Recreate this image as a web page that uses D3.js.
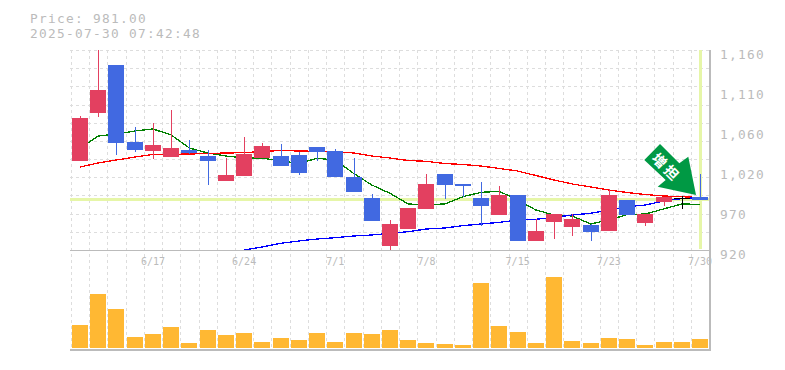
<!DOCTYPE html>
<html>
<head>
<meta charset="utf-8">
<script src="https://cdn.jsdelivr.net/npm/d3@7"></script>
<style>
html,body{margin:0;padding:0;background:#fff;overflow:hidden}
svg{display:block}
text{font-family:"DejaVu Sans Mono","Liberation Mono",monospace;fill:#bbb}
.domain{display:none}
</style>
</head>
<body>
<div id="chart"></div>
<script>
//------------------------------------------------------------------
// data
//------------------------------------------------------------------
var dates = ['6/11','6/12','6/13','6/16','6/17','6/18','6/19','6/20','6/23','6/24','6/25','6/26','6/27','6/30','7/1','7/2','7/3','7/4','7/7','7/8','7/9','7/10','7/11','7/14','7/15','7/16','7/17','7/18','7/22','7/23','7/24','7/25','7/28','7/29','7/30'];

var opens  = [1026.8,1084.4,1142,1049.6,1038.8,1031.6,1040,1032.8,1002.8,1008.8,1030.4,1032.8,1034,1043.6,1038.8,1007.6,982.4,924.8,945.2,969.2,1011.2,999.2,982.4,962,986,930.8,953.6,947.6,950,942.8,980,952.4,977.6,983,983.6];
var highs  = [1080.8,1175,1142,1067.6,1072.4,1088,1052,1040,1030.4,1055.6,1048.4,1047.2,1037.6,1043.6,1041.2,1030.4,987.2,956,970.4,1011.2,1011.2,999.2,1001.6,996.8,986,957.2,963.2,963.2,951.2,993.2,980,963.2,983.6,984.8,1011.2];
var lows   = [1026.8,1079.6,1034,1037.6,1029.2,1031.6,1035.2,998,1002.8,1008.8,1030.4,1020.8,1010,1026.8,1007.6,989.6,954.8,918.8,945.2,969.2,981.2,983.6,948.8,962,930.8,930.8,933.2,936.8,930.8,942.8,962,948.8,972.8,969.2,980];
var closes = [1078.4,1112,1048.4,1040,1046,1042.4,1036.4,1026.8,1010,1035.2,1044.8,1020.8,1012.4,1037.6,1007.6,989.6,954.8,951.2,970.4,999.2,998,996.8,972.8,986,930.8,942.8,963.2,957.2,941.6,986,962,963.2,983.6,983,980];
var volumes = [23000,54000,39000,11000,14000,21000,5000,18000,13000,15000,6000,10000,8000,15000,6000,15000,14000,18000,8000,5000,4000,3000,65000,22000,16000,5000,71000,7000,5000,10000,9000,3000,6000,6000,9000];

var ma5  = [1042.4,1056.8,1059.2,1062.8,1065.2,1058,1042.4,1036.4,1032.8,1030.4,1030.4,1026.8,1024,1030,1028,1012,998,988,975.2,974.4,975.2,984,989.2,990.4,980,968,962,960.8,951.2,956,962.4,963.2,969.2,975.2,974.8];
var ma25 = [1019.6,1024.4,1028,1031.6,1034.6,1034.8,1035.2,1035.8,1036.4,1036.8,1038.2,1039.4,1038.8,1038.4,1038.2,1036.4,1032.8,1030.4,1027.4,1026.4,1023.8,1022.6,1020.8,1017.8,1014.8,1009.4,1004,999.2,995.6,992,989,986.6,984.8,983.96,983];
var ma75 = [null,null,null,null,null,null,null,null,null,920,923.6,928,930.8,933.2,934.8,936.8,938,940,942,945.2,946.4,949.2,951.2,953.2,956,956.8,959.2,962,964,968,972,974,978.8,981.6,983];

var priceDomain = [920,1160];
var priceTicks = [1160,1112,1064,1016,968,920];
var priceTickLabels = ['1,160','1,110','1,060','1,020','970','920'];
var dateTicks = ['6/17','6/24','7/1','7/8','7/15','7/23','7/30'];
var lastPrice = 981;
var gridRows = 11;
var title = ['Price: 981.00','2025-07-30 07:42:48'];
var arrowLabel = ['増','担'];

//------------------------------------------------------------------
// layout
//------------------------------------------------------------------
var W = 785, H = 370,
		left = 70, right = 710,
		top_ = 50, priceBottom = 250, volBottom = 348, bottom = 350;

var clrUp = '#e34060', clrDown = '#4169e1', clrFlat = '#000',
		clrGrid = '#ddd', clrAxis = '#bbb', clrMark = '#e6f6a8',
		clrVol = '#ffb833', clrArrow = '#009944';

var candles = dates.map((d,i)=>({date:d, o:opens[i], h:highs[i], l:lows[i], c:closes[i], v:volumes[i]}));

var x = d3.scaleBand().domain(dates).range([70.9,709.1]);
var y = d3.scaleLinear().domain(priceDomain).range([priceBottom,top_]);
var yVol = d3.scaleLinear().domain([0,98000]).range([volBottom,volBottom-98]);

var cx = d=>x(d)+x.bandwidth()/2;
var clr = d=>d.c>d.o ? clrUp : d.c<d.o ? clrDown : clrFlat;

var svg = d3.select('#chart').append('svg').attr('width',W).attr('height',H);

svg.append('defs').append('clipPath').attr('id','clip-price')
	.append('rect').attr('x',left).attr('y',top_).attr('width',right-left).attr('height',priceBottom-top_+2);

//-----------------------------
// title
//-----------------------------
svg.append('g').selectAll('text').data(title).enter().append('text')
	.attr('x',30).attr('y',(d,i)=>23+i*15)
	.attr('font-size','12.8px')
	.attr('letter-spacing','1.3px')
	.text(d=>d);

//-----------------------------
// grid
//-----------------------------
var gGrid = svg.append('g').attr('shape-rendering','crispEdges');

gGrid.selectAll('.h').data(d3.range(gridRows+1)).enter().append('line')
	.attr('x1',left).attr('x2',right)
	.attr('y1',i=>Math.round(y(priceDomain[1]-i*(priceDomain[1]-priceDomain[0])/gridRows)))
	.attr('y2',i=>Math.round(y(priceDomain[1]-i*(priceDomain[1]-priceDomain[0])/gridRows)))
	.attr('stroke',clrGrid).attr('stroke-dasharray','3,3');

gGrid.selectAll('.v').data(dates.concat('end')).enter().append('line')
	.attr('x1',d=>d=='end' ? Math.round(x.range()[1]) : Math.round(x(d)))
	.attr('x2',d=>d=='end' ? Math.round(x.range()[1]) : Math.round(x(d)))
	.attr('y1',top_).attr('y2',bottom)
	.attr('stroke',clrGrid).attr('stroke-dasharray','3,3');

//-----------------------------
// last price + last date markers
//-----------------------------
var gMark = svg.append('g').attr('shape-rendering','crispEdges');
gMark.append('line')
	.attr('x1',left).attr('x2',right)
	.attr('y1',y(lastPrice)).attr('y2',y(lastPrice))
	.attr('stroke',clrMark).attr('stroke-width',3);
gMark.append('line')
	.attr('x1',cx('7/30')+.5).attr('x2',cx('7/30')+.5)
	.attr('y1',top_).attr('y2',priceBottom-1)
	.attr('stroke',clrMark).attr('stroke-width',3);

//-----------------------------
// moving averages
//-----------------------------
var line = d3.line()
	.defined(d=>d.v!=null)
	.x(d=>cx(d.date))
	.y(d=>y(d.v));

var gLines = svg.append('g').attr('clip-path','url(#clip-price)');
[[ma5,'#008000'],[ma25,'#f00'],[ma75,'#00f']].forEach(s=>{
	gLines.append('path')
		.datum(s[0].map((v,i)=>({date:dates[i],v:v})))
		.attr('d',line)
		.attr('fill','none')
		.attr('stroke',s[1])
		.attr('stroke-width',1.3)
		.attr('shape-rendering','crispEdges');
});

//-----------------------------
// candles
//-----------------------------
var gCandles = svg.append('g').attr('clip-path','url(#clip-price)').attr('shape-rendering','crispEdges');
var c = gCandles.selectAll('.candle').data(candles).enter().append('g').attr('class','candle');

c.append('line')
	.attr('x1',d=>Math.round(cx(d.date))+.5)
	.attr('x2',d=>Math.round(cx(d.date))+.5)
	.attr('y1',d=>y(d.h)).attr('y2',d=>y(d.l))
	.attr('stroke',clr);

c.append('rect')
	.attr('x',d=>Math.round(cx(d.date)-8))
	.attr('width',16)
	.attr('y',d=>y(Math.max(d.o,d.c)))
	.attr('height',d=>Math.max(d.o==d.c ? 1 : 0, y(Math.min(d.o,d.c))-y(Math.max(d.o,d.c))))
	.attr('fill',clr);

//-----------------------------
// volume
//-----------------------------
svg.append('g').attr('shape-rendering','crispEdges')
	.selectAll('rect').data(candles).enter().append('rect')
		.attr('x',d=>Math.round(cx(d.date)-8))
		.attr('width',16)
		.attr('y',d=>yVol(d.v))
		.attr('height',d=>yVol(0)-yVol(d.v))
		.attr('fill',clrVol);

//-----------------------------
// frame
//-----------------------------
var gFrame = svg.append('g').attr('shape-rendering','crispEdges');
gFrame.append('line').attr('x1',left).attr('x2',right).attr('y1',priceBottom).attr('y2',priceBottom).attr('stroke',clrAxis);
gFrame.append('line').attr('x1',left).attr('x2',right+1).attr('y1',bottom).attr('y2',bottom).attr('stroke',clrAxis).attr('stroke-width',2);
gFrame.append('line').attr('x1',right).attr('x2',right).attr('y1',top_).attr('y2',bottom).attr('stroke',clrAxis).attr('stroke-width',2);

//-----------------------------
// axes
//-----------------------------
var axisY = d3.axisRight(y).tickValues(priceTicks).tickSize(0).tickPadding(10)
	.tickFormat((d,i)=>priceTickLabels[i]);
svg.append('g').attr('transform','translate('+right+',0)').call(axisY)
	.call(sel=>{
		sel.selectAll('text').attr('dy',8).attr('font-size','12.8px').attr('letter-spacing','1.3px').attr('fill','#bbb');
	})
	.attr('font-family',null);

var axisX = d3.axisBottom(x).tickValues(dateTicks).tickSize(0).tickPadding(0);
svg.append('g').attr('transform','translate(0,'+priceBottom+')').call(axisX)
	.call(sel=>{
		sel.selectAll('text').attr('y',15).attr('dy',0).attr('font-size','10px').attr('fill','#bbb');
	})
	.attr('font-family',null);

//-----------------------------
// arrow badge
//-----------------------------
var arrowPts = [[660,144],[679.3,163.3],[688.3,156.7],[696,195],[657.7,186.7],[665.7,180],[644.3,160]];
var gArrow = svg.append('g');
gArrow.append('polygon')
	.attr('points',arrowPts.map(d=>d.join(',')).join(' '))
	.attr('fill',clrArrow);
gArrow.selectAll('text').data(arrowLabel).enter().append('text')
	.attr('transform',(d,i)=>'translate('+(659.5+i*12)+','+(160.5+i*12)+') rotate(45)')
	.attr('text-anchor','middle')
	.attr('dy','.38em')
	.attr('font-size','14px')
	.attr('font-weight',700)
	.style('font-family','"Noto Sans CJK JP"')
	.style('fill','#fff')
	.text(d=>d);
</script>
</body>
</html>
